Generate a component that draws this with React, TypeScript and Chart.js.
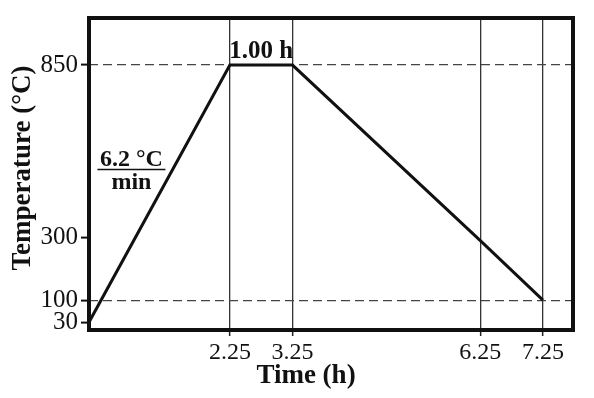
import React, { useEffect, useRef } from "react";
import { Chart, registerables } from "chart.js";

Chart.register(...registerables);

// ---- data ----
const timeH = [0, 2.25, 3.25, 6.25, 7.25];
const tempC = [30, 850, 850, 290, 100];
const xTicks = [2.25, 3.25, 6.25, 7.25];
const yTicks = [30, 100, 300, 850];
const dashedLevels = [100, 850];
const holdLabel = "1.00 h";
const rateTop = "6.2 °C";
const rateBottom = "min";
const xTitle = "Time (h)";
const yTitle = "Temperature (°C)";

const SERIF = '"Liberation Serif", "Times New Roman", serif';
const INK = "#111";

const annotations = {
  id: "annotations",
  afterDatasetsDraw(chart: any) {
    const { ctx, chartArea, scales } = chart;
    const x = scales.x;
    const y = scales.y;
    ctx.save();
    // frame
    ctx.strokeStyle = INK;
    ctx.lineWidth = 4;
    ctx.strokeRect(
      chartArea.left,
      chartArea.top,
      chartArea.right - chartArea.left,
      chartArea.bottom - chartArea.top
    );
    // hold label
    ctx.fillStyle = INK;
    ctx.textAlign = "center";
    ctx.textBaseline = "alphabetic";
    ctx.font = `bold 25px ${SERIF}`;
    const hx = (x.getPixelForValue(timeH[1]) + x.getPixelForValue(timeH[2])) / 2;
    const hy = y.getPixelForValue(tempC[1]) - 7;
    ctx.fillText(holdLabel, hx, hy);
    // rate label
    const mx = (x.getPixelForValue(timeH[0]) + x.getPixelForValue(timeH[1])) / 2 - 28;
    const my = (y.getPixelForValue(tempC[0]) + y.getPixelForValue(tempC[1])) / 2 - 24;
    ctx.font = `bold 24px ${SERIF}`;
    ctx.fillText(rateTop, mx, my - 4);
    ctx.lineWidth = 1.5;
    ctx.beginPath();
    ctx.moveTo(mx - 34, my);
    ctx.lineTo(mx + 34, my);
    ctx.stroke();
    ctx.fillText(rateBottom, mx, my + 19);

    // axis titles
    ctx.font = `bold 27px ${SERIF}`;
    const cx = (chartArea.left + chartArea.right) / 2 - 25;
    ctx.fillText(xTitle, cx, 383);
    ctx.translate(23, (chartArea.top + chartArea.bottom) / 2 - 6);
    ctx.rotate(-Math.PI / 2);
    ctx.textBaseline = "middle";
    ctx.fillText(yTitle, 0, 0);
    ctx.restore();
  },
};

export default function App() {
  const ref = useRef<HTMLCanvasElement | null>(null);

  useEffect(() => {
    if (!ref.current) return;
    const chart = new Chart(ref.current, {
      type: "line",
      data: {
        datasets: [
          {
            data: timeH.map((t, i) => ({ x: t, y: tempC[i] })),
            borderColor: INK,
            borderWidth: 3,
            pointRadius: 0,
            tension: 0,
            fill: false,
          },
        ],
      },
      options: {
        animation: false,
        responsive: false,
        layout: { padding: { top: 15, right: 21, left: 0, bottom: 0 } },
        plugins: { legend: { display: false }, tooltip: { enabled: false } },
        scales: {
          x: {
            type: "linear",
            min: 0,
            max: 7.73,
            afterBuildTicks: (s: any) => {
              s.ticks = xTicks.map((v) => ({ value: v }));
            },
            afterFit: (s: any) => {
              s.height = 68;
            },
            ticks: {
              font: { family: SERIF, size: 24 },
              color: INK,
              padding: 2,
              maxRotation: 0,
              autoSkip: false,
              callback: (v: any) => String(v),
            },
            grid: {
              color: "#333",
              lineWidth: 1.3,
              tickColor: "#222",
              tickWidth: 1.5,
              tickLength: 6,
              tickBorderDash: [],
            },
            border: { display: false },
            title: { display: false },
          },
          y: {
            type: "linear",
            min: 5,
            max: 1000,
            afterBuildTicks: (s: any) => {
              s.ticks = yTicks.map((v) => ({ value: v }));
            },
            afterFit: (s: any) => {
              s.width = 89;
            },
            ticks: {
              font: { family: SERIF, size: 25 },
              color: INK,
              padding: 3,
              autoSkip: false,
              callback: (v: any) => String(v),
            },
            grid: {
              color: (c: any) =>
                c.tick && dashedLevels.includes(c.tick.value) ? "#444" : "rgba(0,0,0,0)",
              lineWidth: 1.2,
              tickColor: INK,
              tickWidth: 2,
              tickLength: 8,
              tickBorderDash: [],
            },
            border: { display: false, dash: [9, 5] },
            title: { display: false },
          },
        },
      },
      plugins: [annotations],
    } as any);
    return () => chart.destroy();
  }, []);

  return (
    <div style={{ position: "fixed", left: 0, top: 0, width: 594, height: 398, background: "#fff" }}>
      <canvas ref={ref} width={594} height={398} />
    </div>
  );
}
